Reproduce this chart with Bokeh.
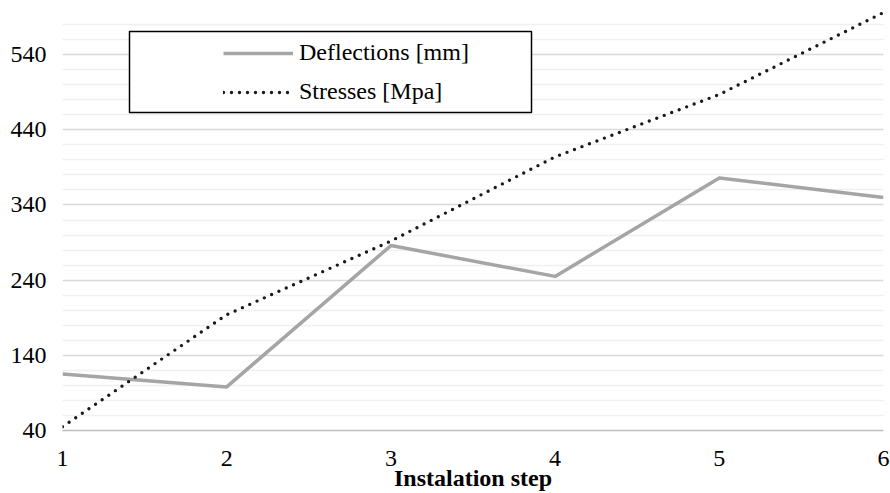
from bokeh.plotting import figure
from bokeh.models import (Range1d, FixedTicker, Legend, LegendItem, BoxAnnotation)
from bokeh.embed import file_html
from bokeh.resources import INLINE

# Installation steps and measured responses
steps = [1, 2, 3, 4, 5, 6]
deflections = [115, 98, 286, 245, 376, 350]
stresses = [45, 194, 292, 404, 487, 596]

y_major_ticks = [40, 140, 240, 340, 440, 540]
y_minor_ticks = [60, 80, 100, 120, 160, 180, 200, 220, 260, 280, 300, 320,
                 360, 380, 400, 420, 460, 480, 500, 520, 560, 580, 600]

x_title = "Instalation step"

FONT = "Liberation Serif"
FONT_SIZE = "24px"

p = figure(width=890, height=493, output_backend="svg", toolbar_location=None,
           x_range=Range1d(1, 6), y_range=Range1d(40, 600),
           min_border_left=62, min_border_right=7, min_border_top=9,
           min_border_bottom=63)
p.outline_line_color = None
p.background_fill_color = "white"
p.border_fill_color = "white"

# Axes
p.xaxis.ticker = FixedTicker(ticks=steps)
p.yaxis.ticker = FixedTicker(ticks=y_major_ticks, minor_ticks=y_minor_ticks)
for ax in (p.xaxis[0], p.yaxis[0]):
    ax.major_tick_line_color = None
    ax.minor_tick_line_color = None
    ax.major_tick_out = 0
    ax.minor_tick_out = 0
    ax.major_label_text_font = FONT
    ax.major_label_text_font_size = FONT_SIZE
    ax.major_label_text_color = "#000000"
p.yaxis.axis_line_color = None
p.xaxis.axis_line_color = "#bdbdbd"
p.xaxis.axis_line_width = 1.5
p.yaxis.major_label_standoff = 16
p.xaxis.major_label_standoff = 20
p.xaxis.axis_label = x_title
p.xaxis.axis_label_text_font = FONT
p.xaxis.axis_label_text_font_style = "bold"
p.xaxis.axis_label_text_font_size = FONT_SIZE
p.xaxis.axis_label_text_color = "#000000"
p.xaxis.axis_label_standoff = -4

# Grid
p.xgrid.grid_line_color = None
p.ygrid.grid_line_color = "#d9d9d9"
p.ygrid.grid_line_width = 1.5
p.ygrid.minor_grid_line_color = "#f0f0f0"
p.ygrid.minor_grid_line_width = 1.5

# Series
r_def = p.line(steps, deflections, line_color="#a5a5a5", line_width=3.5,
               line_join="round")
r_str = p.line(steps, stresses, line_color="#1a1a1a", line_width=3.4,
               line_dash="0 8", line_cap="round")

# Legend frame
frame_box = BoxAnnotation(left=67, right=469, top=399, bottom=318,
                          left_units="screen", right_units="screen",
                          top_units="screen", bottom_units="screen",
                          fill_color="white", fill_alpha=1.0,
                          line_color="black", line_width=1.5, line_alpha=1.0)
p.add_layout(frame_box)

legend = Legend(items=[LegendItem(label="Deflections [mm]", renderers=[r_def]),
                       LegendItem(label="Stresses [Mpa]", renderers=[r_str])],
                location=(161, 325), orientation="vertical",
                glyph_width=70, glyph_height=20, label_height=20,
                spacing=12, padding=0, margin=0, label_standoff=6,
                label_text_font=FONT, label_text_font_size=FONT_SIZE,
                label_text_color="#000000",
                border_line_alpha=0, background_fill_alpha=0)
p.add_layout(legend)

open("out.html", "w").write(file_html(p, INLINE))
